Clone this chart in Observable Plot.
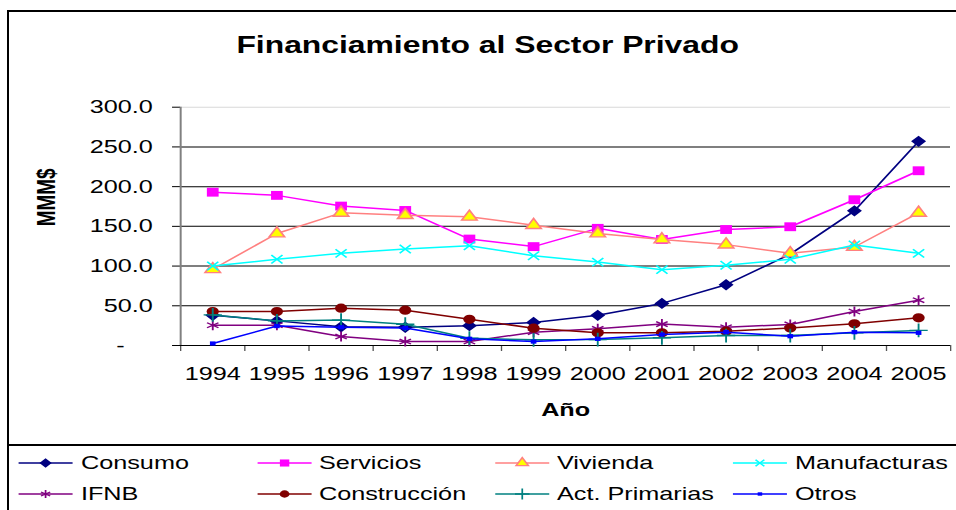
<!DOCTYPE html>
<html>
<head>
<meta charset="utf-8">
<script src="https://cdn.jsdelivr.net/npm/d3@7"></script>
<script src="https://cdn.jsdelivr.net/npm/@observablehq/plot@0.6"></script>
<style>
  body { margin: 0; background: #fff; font-family: "Liberation Sans", Arial, sans-serif; }
  #frame { position: absolute; left: 7px; top: 10px; width: 990px; height: 530px; border: 2px solid #000; box-sizing: border-box; }
  #chart { position: absolute; left: 0; top: 0; }
  #legendBox { position: absolute; left: 7px; top: 444px; width: 990px; height: 90px; border: 2px solid #000; box-sizing: border-box; background: #fff; }
  #legend { position: absolute; left: 0; top: 445px; width: 720px; height: 65px; transform-origin: 0 0; }
  .item { position: absolute; height: 20px; display: flex; align-items: center; white-space: nowrap; }
  .item span { font-size: 19px; line-height: 20px; color: #000; }
</style>
</head>
<body>
<div id="frame"></div>
<div id="chart"></div>
<div id="legendBox"></div>
<div id="legend"></div>
<script>
// ---- data ----
const years = [1994, 1995, 1996, 1997, 1998, 1999, 2000, 2001, 2002, 2003, 2004, 2005];
const consumo       = [38, 31, 23.5, 23, 25, 29, 38, 53, 76.5, 115, 169.5, 257];
const servicios     = [193, 189, 175.5, 170, 134, 124.5, 147.5, 133.5, 146, 149.5, 183.5, 220];
const vivienda      = [96, 141, 167, 164, 162, 151.5, 141, 133.5, 127, 116, 124, 167];
const manufacturas  = [100, 108.5, 116, 121.5, 125.5, 113, 105, 95.5, 101, 108.5, 126.5, 116];
const ifnb          = [25.5, 25.5, 11.3, 5, 5, 16.8, 21, 27, 23, 26.5, 42.8, 57];
const construccion  = [42.8, 42.8, 47, 44.5, 33, 21.8, 16, 16, 18, 22, 27.3, 34.8];
const actPrimarias  = [38.5, 31, 32, 26.8, 9.2, 7.2, 7.5, 9.7, 12.5, 12.5, 16, 19];
const otros         = [2.5, 24.5, 23, 22, 8.4, 5, 8.4, 13.8, 16.8, 11.7, 16.8, 16];
const seriesNames   = ["Consumo", "Servicios", "Vivienda", "Manufacturas", "IFNB", "Construcción", "Act. Primarias", "Otros"];
const seriesValues  = [consumo, servicios, vivienda, manufacturas, ifnb, construccion, actPrimarias, otros];
const yTicks = [0, 50, 100, 150, 200, 250, 300];
const titleText = "Financiamiento al Sector Privado";
const xLabel = "Año";
const yLabel = "MMM$";

// ---- styles ----
const styles = {
  "Consumo":        {color: "#000080", symbol: "diamond2", r: 4.2, fill: "#000080", stroke: "#000080"},
  "Servicios":      {color: "#FF00FF", symbol: "square",   r: 5.0, fill: "#FF00FF", stroke: "none"},
  "Vivienda":       {color: "#FF8080", symbol: "triangle", r: 4.3, fill: "#FFFF00", stroke: "#FF8080"},
  "Manufacturas":   {color: "#00FFFF", symbol: "times",    r: 3.9, fill: "none",    stroke: "#00FFFF"},
  "IFNB":           {color: "#800080", symbol: "asterisk", r: 4.7, fill: "none",    stroke: "#800080"},
  "Construcción":   {color: "#800000", symbol: "circle",   r: 4.6, fill: "#800000", stroke: "none"},
  "Act. Primarias": {color: "#008080", symbol: "plus",     r: 4.5, fill: "none",    stroke: "#008080"},
  "Otros":          {color: "#0000FF", symbol: "square",   r: 2.4, fill: "#0000FF", stroke: "none"}
};

const rows = [];
seriesNames.forEach((name, i) => {
  years.forEach((yr, j) => rows.push({series: name, year: yr, value: seriesValues[i][j]}));
});

// the original picture is horizontally stretched: draw at W and stretch to 956
const FINAL_W = 956, W = 720, H = 445;
const S = FINAL_W / W;

const boundaries = d3.range(years.length + 1).map(i => years[0] - 0.5 + i);
const yFmt = d => d === 0 ? "-\u00a0\u00a0\u00a0\u00a0" : d.toFixed(1);

const seriesMarks = [];
seriesNames.forEach(name => {
  const st = styles[name];
  const data = rows.filter(d => d.series === name);
  seriesMarks.push(Plot.line(data, {x: "year", y: "value", stroke: st.color, strokeWidth: 1.5}));
  seriesMarks.push(Plot.dot(data, {x: "year", y: "value", symbol: st.symbol, r: st.r,
    fill: st.fill, stroke: st.stroke, strokeWidth: st.stroke === "none" ? 0 : 1.4}));
});

const svg = Plot.plot({
  width: W,
  height: H,
  marginLeft: 180 / S,
  marginRight: W - 950 / S,
  marginTop: 106.7,
  marginBottom: H - 345,
  style: {fontFamily: "'Liberation Sans', Arial, sans-serif", background: "transparent", overflow: "visible", color: "#000"},
  x: {type: "linear", domain: [years[0] - 0.5, years[years.length - 1] + 0.5]},
  y: {domain: [0, 300]},
  marks: [
    Plot.ruleY(yTicks.filter(d => d > 0 && d < 300), {stroke: "#000", strokeWidth: 1}),
    Plot.ruleY([300], {stroke: "#d8d8d8", strokeWidth: 1}),
    Plot.axisY(yTicks, {tickSize: 6, tickPadding: 15, tickFormat: yFmt, fontSize: 19, label: null, stroke: "#000"}),
    Plot.axisX(boundaries, {tickSize: 6, tickFormat: () => "", label: null, stroke: "#555"}),
    Plot.axisX(years, {tickSize: 0, tickPadding: 21, tickFormat: d => String(d), fontSize: 19, label: null}),
    Plot.ruleY([0], {stroke: "#000", strokeWidth: 1.2}),
    Plot.ruleX([years[0] - 0.5], {y1: 0, y2: 300, stroke: "#808080", strokeWidth: 1.5}),
    ...seriesMarks,
    Plot.text([titleText], {text: d => d, frameAnchor: "top", lineAnchor: "bottom",
      dx: 487 / S - (180 / S + 950 / S) / 2, dy: 53 - 106.7, fontSize: 24, fontWeight: "bold", fill: "#000"}),
    Plot.text([xLabel], {text: d => d, frameAnchor: "bottom", lineAnchor: "bottom",
      dy: 70, fontSize: 19, fontWeight: "bold", fill: "#000"}),
    Plot.text([yLabel], {text: d => d, frameAnchor: "left", rotate: -90,
      dx: 46 / S - 180 / S, fontSize: 19, fontWeight: "bold", fill: "#000"})
  ]
});

svg.setAttribute("viewBox", `0 0 ${W} ${H}`);
svg.setAttribute("width", FINAL_W);
svg.setAttribute("height", H);
svg.setAttribute("preserveAspectRatio", "none");
svg.style.width = FINAL_W + "px";
svg.style.height = H + "px";
svg.style.maxWidth = "none";
document.getElementById("chart").appendChild(svg);

// ---- legend ----
const symbolTypes = {
  diamond2: d3.symbolDiamond2, square: d3.symbolSquare, triangle: d3.symbolTriangle,
  times: d3.symbolTimes, asterisk: d3.symbolAsterisk, circle: d3.symbolCircle, plus: d3.symbolPlus
};
const legend = document.getElementById("legend");
legend.style.transform = `scaleX(${S})`;
const colStarts = [19, 257, 495, 733];
const rowCenters = [463, 494];
const swW = 54 / S;
seriesNames.forEach((name, i) => {
  const st = styles[name];
  const col = i % 4, row = Math.floor(i / 4);
  const item = document.createElement("div");
  item.className = "item";
  item.style.left = (colStarts[col] / S) + "px";
  item.style.top = (rowCenters[row] - 445 - 10) + "px";
  const r = st.r * 0.8;
  const path = d3.symbol(symbolTypes[st.symbol], Math.PI * r * r)();
  item.innerHTML =
    `<svg width="${swW}" height="20" style="overflow:visible">` +
    `<line x1="0" x2="${swW}" y1="10" y2="10" stroke="${st.color}" stroke-width="1.5"/>` +
    `<path d="${path}" transform="translate(${swW / 2},10)" fill="${st.fill}" stroke="${st.stroke}" stroke-width="${st.stroke === "none" ? 0 : 1.3}"/>` +
    `</svg><span style="margin-left:${8 / S}px">${name}</span>`;
  legend.appendChild(item);
});
</script>
</body>
</html>
